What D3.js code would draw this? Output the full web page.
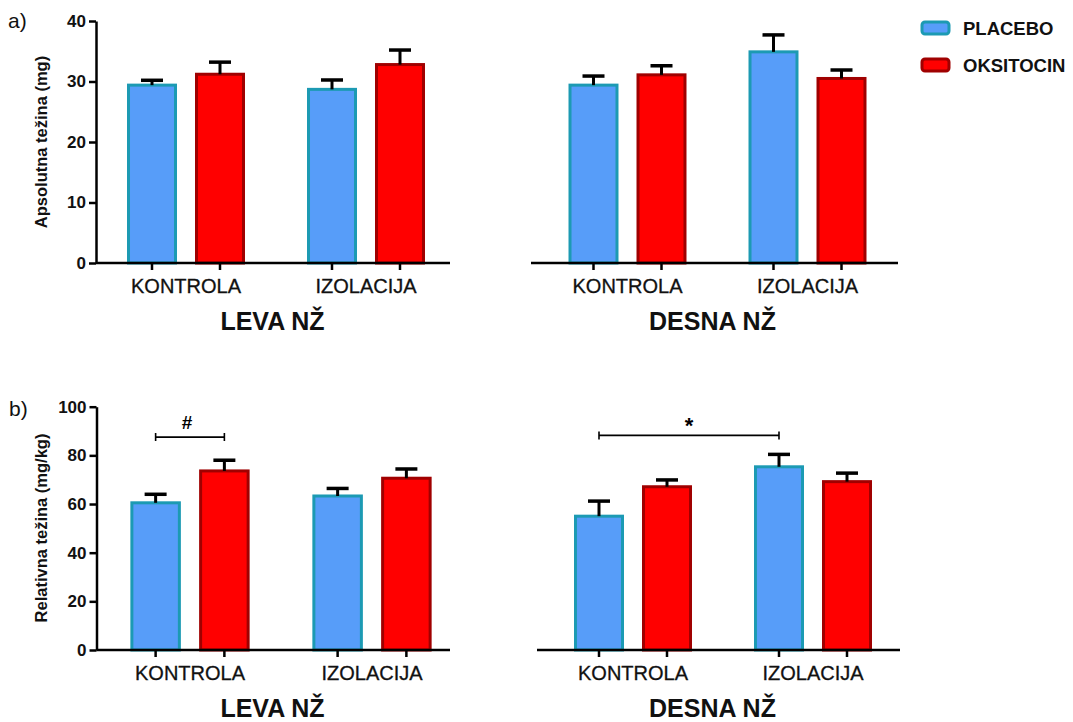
<!DOCTYPE html>
<html>
<head>
<meta charset="utf-8">
<script src="https://cdn.jsdelivr.net/npm/d3@7"></script>
<style>
  html, body { margin: 0; padding: 0; background: #fff; }
  svg { display: block; font-family: "Liberation Sans", Arial, sans-serif; }
</style>
</head>
<body>
<svg id="chart" width="1073" height="722"></svg>
<script>
// ---------- DATA ----------
const categories = ["KONTROLA", "IZOLACIJA"];
const series = ["PLACEBO", "OKSITOCIN"];
const absTicks = [0, 10, 20, 30, 40];
const relTicks = [0, 20, 40, 60, 80, 100];

// rows = categories, columns = series (PLACEBO, OKSITOCIN)
const absLevaMean = [[29.4, 31.2], [28.7, 32.8]];
const absLevaSem  = [[0.8, 2.0], [1.55, 2.4]];
const absDesnaMean = [[29.4, 31.1], [34.9, 30.5]];
const absDesnaSem  = [[1.5, 1.5], [2.8, 1.4]];
const relLevaMean = [[60.5, 73.6], [63.3, 70.6]];
const relLevaSem  = [[3.5, 4.4], [3.1, 3.8]];
const relDesnaMean = [[55.0, 67.1], [75.3, 69.2]];
const relDesnaSem  = [[6.2, 2.8], [5.1, 3.5]];

// significance brackets: [fromCategory, fromSeries, toCategory, toSeries, level, label]
const relLevaSig = [["KONTROLA", "PLACEBO", "KONTROLA", "OKSITOCIN", 87.5, "#"]];
const relDesnaSig = [["KONTROLA", "PLACEBO", "IZOLACIJA", "PLACEBO", 88.2, "*"]];

// ---------- STYLE ----------
const fillColor = { PLACEBO: "#579DF9", OKSITOCIN: "#FF0000" };
const strokeColor = { PLACEBO: "#1C9AB3", OKSITOCIN: "#A00000" };

const svg = d3.select("#chart");

const yAbs = d3.scaleLinear().domain([0, 40]).range([263, 21]);
const yRel = d3.scaleLinear().domain([0, 100]).range([650, 406.7]);

const panels = [
  { mean: absLevaMean, sem: absLevaSem, y: yAbs, xr: [96, 456], line: [96, 450], yAxis: true, ticks: absTicks,
    title: "LEVA NŽ", tx: 272.5, ty: 330, sig: [] },
  { mean: absDesnaMean, sem: absDesnaSem, y: yAbs, xr: [537.5, 897.5], line: [531, 898], yAxis: false,
    title: "DESNA NŽ", tx: 712.5, ty: 330, sig: [] },
  { mean: relLevaMean, sem: relLevaSem, y: yRel, xr: [99, 463], line: [96.5, 450], yAxis: true, ticks: relTicks,
    title: "LEVA NŽ", tx: 272.5, ty: 717, sig: relLevaSig, sigSize: 19, sigDy: -8, sigDx: -3 },
  { mean: relDesnaMean, sem: relDesnaSem, y: yRel, xr: [543, 903], line: [537, 900], yAxis: false,
    title: "DESNA NŽ", tx: 712.5, ty: 717, sig: relDesnaSig, sigSize: 22, sigDy: -2, sigDx: 0 }
];

panels.forEach(p => {
  const g = svg.append("g");
  const y = p.y;
  const y0 = y(0);
  const x = d3.scaleBand().domain(categories).range(p.xr).paddingInner(0).paddingOuter(0);
  const xs = d3.scaleBand().domain(series).range([0, x.bandwidth()]).paddingInner(0.309).paddingOuter(0.478);
  const cx = (c, s) => x(c) + xs(s) + xs.bandwidth() / 2;

  const rows = [];
  categories.forEach((c, i) => series.forEach((s, j) => rows.push({ c, s, v: p.mean[i][j], e: p.sem[i][j] })));

  // bars
  g.selectAll("rect.bar").data(rows).join("rect")
    .attr("class", "bar")
    .attr("x", d => x(d.c) + xs(d.s))
    .attr("width", xs.bandwidth())
    .attr("y", d => y(d.v))
    .attr("height", d => y0 - y(d.v))
    .attr("fill", d => fillColor[d.s])
    .attr("stroke", d => strokeColor[d.s])
    .attr("stroke-width", 3);

  // error bars
  const capW = 22;
  g.selectAll("line.err").data(rows).join("line")
    .attr("x1", d => cx(d.c, d.s)).attr("x2", d => cx(d.c, d.s))
    .attr("y1", d => y(d.v)).attr("y2", d => y(d.v + d.e))
    .attr("stroke", "#000").attr("stroke-width", 3);
  g.selectAll("line.cap").data(rows).join("line")
    .attr("x1", d => cx(d.c, d.s) - capW / 2).attr("x2", d => cx(d.c, d.s) + capW / 2)
    .attr("y1", d => y(d.v + d.e)).attr("y2", d => y(d.v + d.e))
    .attr("stroke", "#000").attr("stroke-width", 3.5);

  // x axis line
  g.append("line")
    .attr("x1", p.line[0]).attr("x2", p.line[1])
    .attr("y1", y0).attr("y2", y0)
    .attr("stroke", "#000").attr("stroke-width", 2.5);
  // x ticks at bars
  g.selectAll("line.xt").data(rows).join("line")
    .attr("x1", d => cx(d.c, d.s)).attr("x2", d => cx(d.c, d.s))
    .attr("y1", y0).attr("y2", y0 + 7)
    .attr("stroke", "#000").attr("stroke-width", 2.5);
  // category labels
  const xa = g.append("g").attr("transform", `translate(0,${y0})`)
    .call(d3.axisBottom(x).tickSize(0).tickPadding(0));
  xa.select(".domain").remove();
  xa.selectAll("text")
    .attr("dy", null).attr("y", 30)
    .attr("font-size", 20).attr("font-family", "Liberation Sans, Arial, sans-serif")
    .attr("fill", "#111").attr("stroke", "#111").attr("stroke-width", 0.3);

  // y axis
  if (p.yAxis) {
    const ya = g.append("g").attr("transform", `translate(${p.line[0]},0)`)
      .call(d3.axisLeft(y).tickValues(p.ticks).tickSize(7).tickPadding(3).tickSizeOuter(0));
    ya.select(".domain").attr("stroke-width", 2.5);
    ya.selectAll(".tick line").attr("stroke-width", 2.5);
    ya.selectAll("text")
      .attr("font-size", 17).attr("font-weight", "bold")
      .attr("font-family", "Liberation Sans, Arial, sans-serif")
      .attr("fill", "#111");
  }

  // significance brackets
  p.sig.forEach(sg => {
    const xa1 = cx(sg[0], sg[1]), xa2 = cx(sg[2], sg[3]), yy = y(sg[4]);
    g.append("path")
      .attr("d", `M${xa1},${yy - 4}V${yy + 4}M${xa1},${yy}H${xa2}M${xa2},${yy - 4}V${yy + 4}`)
      .attr("stroke", "#000").attr("stroke-width", 1.6).attr("fill", "none");
    g.append("text")
      .attr("x", (xa1 + xa2) / 2 + p.sigDx).attr("y", yy + p.sigDy)
      .attr("text-anchor", "middle")
      .attr("font-size", p.sigSize).attr("font-weight", "bold")
      .text(sg[5]);
  });

  // panel title
  g.append("text")
    .attr("x", p.tx).attr("y", p.ty)
    .attr("text-anchor", "middle")
    .attr("font-size", 25).attr("font-weight", "bold").attr("fill", "#111")
    .text(p.title);
});

// y-axis titles
svg.append("text")
  .attr("transform", `translate(47,142) rotate(-90)`)
  .attr("text-anchor", "middle").attr("font-size", 16.5).attr("font-weight", "bold").attr("fill", "#111")
  .text("Apsolutna težina (mg)");
svg.append("text")
  .attr("transform", `translate(47,528) rotate(-90)`)
  .attr("text-anchor", "middle").attr("font-size", 16.5).attr("font-weight", "bold").attr("fill", "#111")
  .text("Relativna težina (mg/kg)");

// panel letters
svg.append("text").attr("x", 8).attr("y", 28).attr("font-size", 21).attr("fill", "#111").text("a)");
svg.append("text").attr("x", 9).attr("y", 416).attr("font-size", 21).attr("fill", "#111").text("b)");

// legend
const leg = svg.append("g");
leg.selectAll("rect").data(series).join("rect")
  .attr("x", 922).attr("y", (d, i) => 22 + i * 37)
  .attr("width", 27).attr("height", 12).attr("rx", 3)
  .attr("fill", d => fillColor[d]).attr("stroke", d => strokeColor[d]).attr("stroke-width", 3);
leg.selectAll("text").data(series).join("text")
  .attr("x", 963).attr("y", (d, i) => 35 + i * 37)
  .attr("font-size", 18.5).attr("font-weight", "bold").attr("fill", "#111")
  .text(d => d);
</script>
</body>
</html>
